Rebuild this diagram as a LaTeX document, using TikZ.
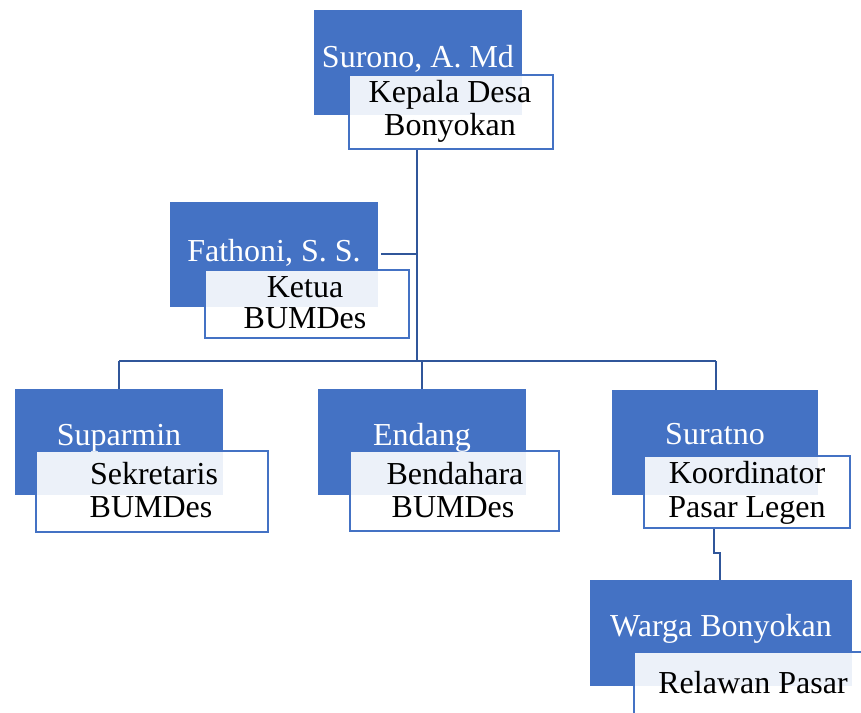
\documentclass[tikz,border=0pt]{standalone}
\usepackage{fontspec}
\setmainfont{Liberation Serif}
\begin{document}
\begin{tikzpicture}[x=1pt,y=-1pt,
  bluebox/.style={draw=none,fill=boxblue,inner sep=0pt,anchor=north west},
  whitebox/.style={draw=boxblue,line width=2pt,fill=white,fill opacity=0.9,inner sep=0pt,anchor=north west},
  nametext/.style={text=white,font=\fontsize{32}{33}\selectfont,anchor=base,inner sep=0pt},
  roletext/.style={text=black,font=\fontsize{32}{33}\selectfont,anchor=base,inner sep=0pt},
  conn/.style={draw=connblue,line width=2.2pt}]
\definecolor{boxblue}{HTML}{4472C4}
\definecolor{connblue}{HTML}{30569A}
\useasboundingbox (0,0) rectangle (861,712);
\clip (0,0) rectangle (861,712);
% connector points
\coordinate (hubL) at (119,361);
\coordinate (hubR) at (716,361);
\coordinate (hubM) at (417,361);
\coordinate (fj) at (417,254);
\coordinate (jogA) at (714,553);
\coordinate (jogB) at (720,553);
% top
\node[bluebox,minimum width=208pt,minimum height=105pt] (b1) at (314,10) {};
\node[whitebox,minimum width=204pt,minimum height=74pt] (w1) at (348,74) {};
% Fathoni
\node[bluebox,minimum width=208pt,minimum height=105pt] (b2) at (170,202) {};
\node[whitebox,minimum width=204pt,minimum height=68pt] (w2) at (204,269) {};
% Suparmin
\node[bluebox,minimum width=208pt,minimum height=106pt] (b3) at (15,389) {};
\node[whitebox,minimum width=232pt,minimum height=81pt] (w3) at (35,450) {};
% Endang
\node[bluebox,minimum width=208pt,minimum height=106pt] (b4) at (318,389) {};
\node[whitebox,minimum width=209pt,minimum height=80pt] (w4) at (349,450) {};
% Suratno
\node[bluebox,minimum width=206pt,minimum height=105pt] (b5) at (612,390) {};
\node[whitebox,minimum width=206pt,minimum height=72pt] (w5) at (643,455) {};
% Warga
\node[bluebox,minimum width=262pt,minimum height=106pt] (b6) at (590,580) {};
\node[whitebox,minimum width=240pt,minimum height=70pt] (w6) at (633,651) {};
% connector lines
\draw[conn] (w1.south -| hubM) -- (hubM);
\draw[conn] ([xshift=3pt]b2.east |- fj) -- (fj);
\draw[conn] (hubL) -- (hubR);
\draw[conn] (hubL) -- (hubL |- b3.north);
\draw[conn] (b4.north) -- (b4.north |- hubM);
\draw[conn] (hubR) -- (hubR |- b5.north);
\draw[conn] (w5.south -| jogA) -- (jogA) -- (jogB) -- (jogB |- b6.north);
% texts
\node[nametext] (n1) at (418,67) {Surono, A. Md};
\node[roletext] (r1a) at (450,102) {Kepala Desa};
\node[roletext] (r1b) at (450,135) {Bonyokan};
\node[nametext] (n2) at (274,261) {Fathoni, S. S.};
\node[roletext] (r2a) at (305,297) {Ketua};
\node[roletext] (r2b) at (305,328) {BUMDes};
\node[nametext] (n3) at (119,445) {Suparmin};
\node[roletext] (r3a) at (154,484) {Sekretaris};
\node[roletext] (r3b) at (151,517) {BUMDes};
\node[nametext] (n4) at (422,445) {Endang};
\node[roletext] (r4a) at (455,484) {Bendahara};
\node[roletext] (r4b) at (453,517) {BUMDes};
\node[nametext] (n5) at (715,444) {Suratno};
\node[roletext] (r5a) at (747,483) {Koordinator};
\node[roletext] (r5b) at (747,517) {Pasar Legen};
\node[nametext] (n6) at (721,636) {Warga Bonyokan};
\node[roletext] (r6a) at (753,693) {Relawan Pasar};
\end{tikzpicture}
\end{document}
